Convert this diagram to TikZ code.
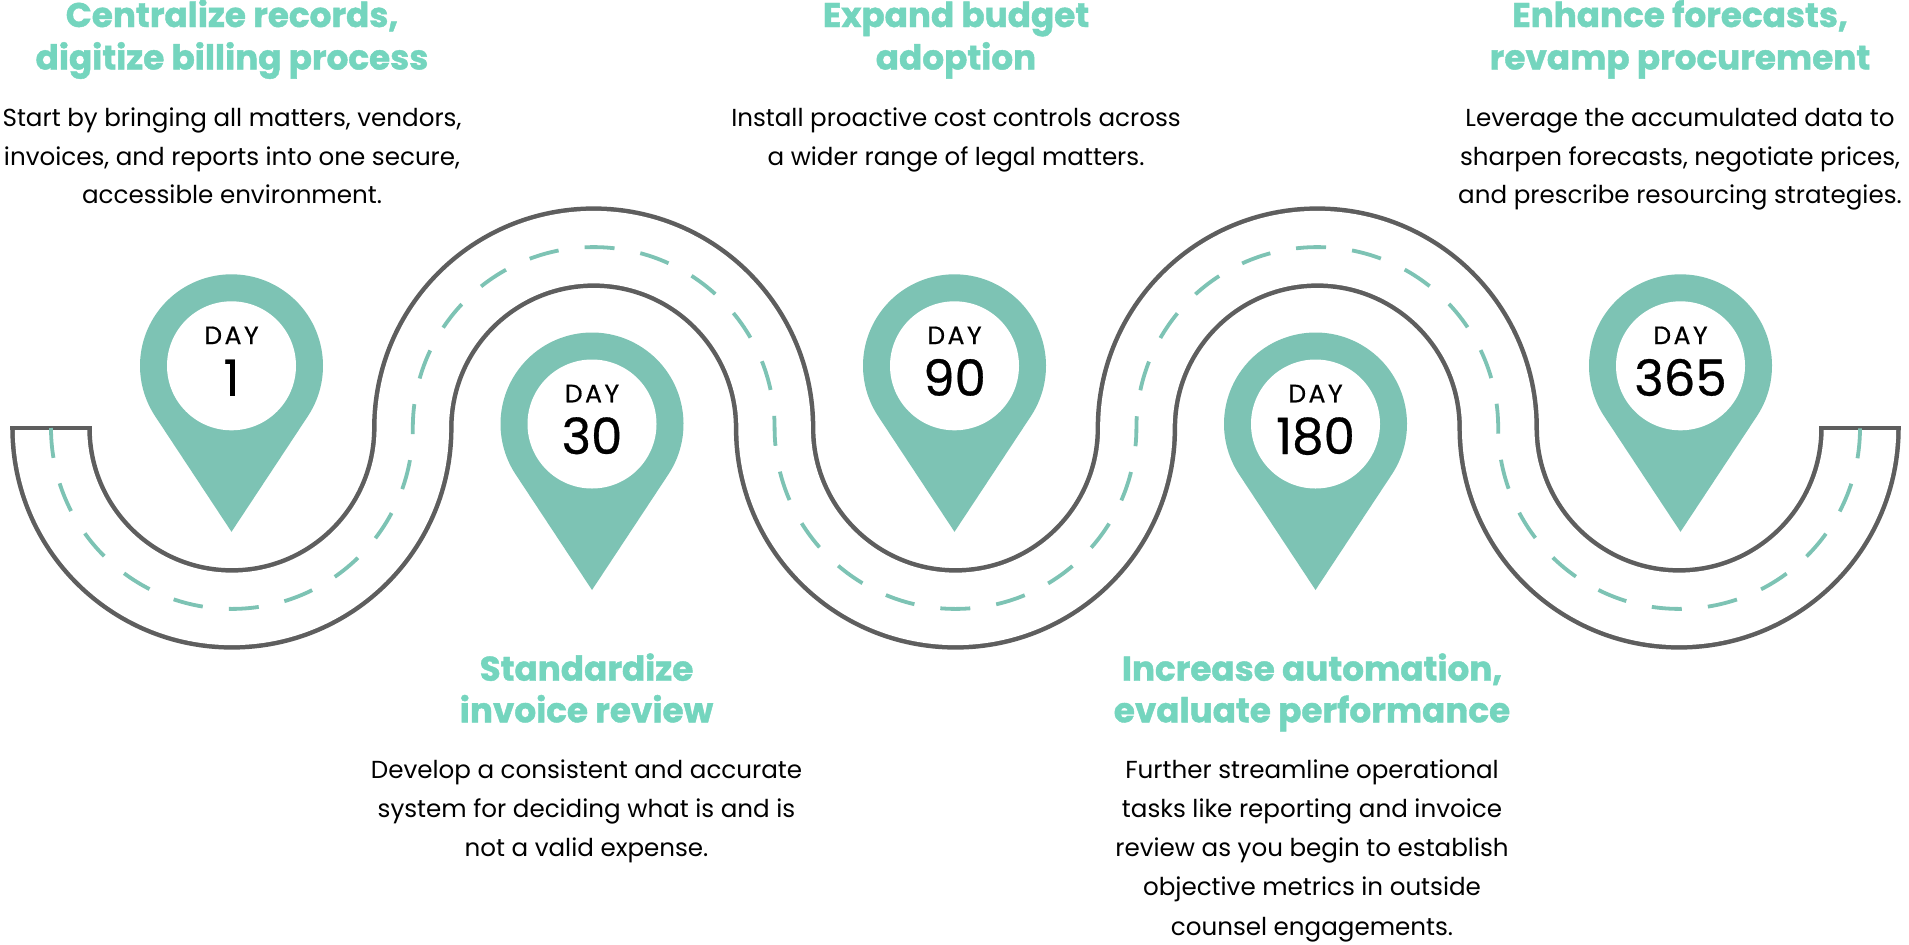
\documentclass[tikz,border=0pt]{standalone}
\usepackage{fontspec}
\setmainfont{Poppins}
\newfontfamily\headf{Poppins}[BoldFeatures={FakeBold=1.2}]
\newfontfamily\pinf{Poppins}[FakeBold=0.6]
\usetikzlibrary{calc}
\definecolor{roadgray}{HTML}{5E5E5E}
\definecolor{pinteal}{HTML}{7DC3B4}
\definecolor{headteal}{HTML}{74D5BE}
\newlength\calw
\begin{document}
\settowidth\calw{\fontsize{10pt}{12pt}\selectfont Start by bringing all matters, vendors,}%
\pgfmathsetmacro\bsz{4588/\calw}%
\settowidth\calw{\headf\fontsize{10pt}{12pt}\selectfont\bfseries digitize billing process}%
\pgfmathsetmacro\hsz{3927/\calw}%
\settowidth\calw{\pinf\fontsize{10pt}{12pt}\selectfont 365}%
\pgfmathsetmacro\nsz{925/\calw}%
\settoheight\calw{\pinf\fontsize{10pt}{12pt}\selectfont D}%
\pgfmathsetmacro\dsz{175/\calw}%
\begin{tikzpicture}[x=1pt,y=-1pt]
\tikzset{
  bodytext/.style={font=\fontsize{\bsz pt}{\bsz pt}\selectfont, text=black, inner sep=0pt, anchor=base},
  headtext/.style={font=\headf\fontsize{\hsz pt}{\hsz pt}\selectfont\bfseries, text=headteal, inner sep=0pt, anchor=base},
  daytext/.style={font=\pinf\fontsize{\dsz pt}{\dsz pt}\selectfont, text=black, inner sep=0pt, anchor=base},
  numtext/.style={font=\pinf\fontsize{\nsz pt}{\nsz pt}\selectfont, text=black, inner sep=0pt, anchor=base},
  roadedge/.style={draw=roadgray, line width=4.5pt, double=white, double distance=72.5pt},
  roadcap/.style={draw=roadgray, line width=4.5pt},
  roaddash/.style={draw=pinteal, line width=3.8pt, dash pattern=on 30pt off 26.23pt},
  pinfill/.style={fill=pinteal},
  pinhole/.style={circle, fill=white, draw=none, minimum size=129pt, inner sep=0pt}
}
\fill[white] (0,0) rectangle (1909,945);
\useasboundingbox (0,0) rectangle (1909,945);

% road
\coordinate (roadL) at (51,428);
\coordinate (roadR) at (1860,428);
\draw[roadedge] (roadL)
  arc[start angle=180,end angle=0,radius=180.9]
  arc[start angle=180,end angle=360,radius=180.9]
  arc[start angle=180,end angle=0,radius=180.9]
  arc[start angle=180,end angle=360,radius=180.9]
  arc[start angle=180,end angle=0,radius=180.9];
\draw[roadcap] ($(roadL)+(-40.75,0)$) -- ($(roadL)+(40.75,0)$);
\draw[roadcap] ($(roadR)+(-40.75,0)$) -- ($(roadR)+(40.75,0)$);
\draw[roaddash] (roadL)
  arc[start angle=180,end angle=0,radius=180.9]
  arc[start angle=180,end angle=360,radius=180.9]
  arc[start angle=180,end angle=0,radius=180.9]
  arc[start angle=180,end angle=360,radius=180.9]
  arc[start angle=180,end angle=0,radius=180.9];

% pins
\foreach \nm/\px/\py/\num in {p1/231.5/365.8/1, p30/592/424/30, p90/954.5/365.8/90, p180/1315.5/424/180, p365/1680.5/365.8/365}{
  \coordinate (\nm) at (\px,\py);
  \fill[pinfill] ($(\nm)+(0,166)$) -- ($(\nm)+(33.45:91.5)$)
     arc[start angle=33.45,end angle=-213.45,radius=91.5] -- cycle;
  \node[pinhole] (\nm-hole) at (\nm) {};
  \node[daytext] (\nm-day) at ($(\nm)+(0,-21.7)$) {D\kern2.5pt A\kern2.5pt Y};
  \node[numtext] (\nm-num) at ($(\nm)+(0,30)$) {\num};
}

% group day 1
\node[headtext] (g1h1) at (232,27) {Centralize records,};
\node[headtext] (g1h2) at (232,69.5) {digitize billing process};
\node[bodytext] (g1b1) at (232,126.7) {Start by bringing all matters, vendors,};
\node[bodytext] (g1b2) at (232,165) {invoices, and reports into one secure,};
\node[bodytext] (g1b3) at (232,203.3) {accessible environment.};

% group day 90
\node[headtext] (g90h1) at (956,27) {Expand budget};
\node[headtext] (g90h2) at (956,69.5) {adoption};
\node[bodytext] (g90b1) at (956,126.7) {Install proactive cost controls across};
\node[bodytext] (g90b2) at (956,165) {a wider range of legal matters.};

% group day 365
\node[headtext] (g365h1) at (1680,27) {Enhance forecasts,};
\node[headtext] (g365h2) at (1680,69.5) {revamp procurement};
\node[bodytext] (g365b1) at (1680,126.7) {Leverage the accumulated data to};
\node[bodytext] (g365b2) at (1680,165) {sharpen forecasts, negotiate prices,};
\node[bodytext] (g365b3) at (1680,203.3) {and prescribe resourcing strategies.};

% group day 30
\node[headtext] (g30h1) at (586.5,680.7) {Standardize};
\node[headtext] (g30h2) at (586.5,722.3) {invoice review};
\node[bodytext] (g30b1) at (586.5,778.7) {Develop a consistent and accurate};
\node[bodytext] (g30b2) at (586.5,817.5) {system for deciding what is and is};
\node[bodytext] (g30b3) at (586.5,856.7) {not a valid expense.};

% group day 180
\node[headtext] (g180h1) at (1312,680.7) {Increase automation,};
\node[headtext] (g180h2) at (1312,722.3) {evaluate performance};
\node[bodytext] (g180b1) at (1312,778.5) {Further streamline operational};
\node[bodytext] (g180b2) at (1312,817.5) {tasks like reporting and invoice};
\node[bodytext] (g180b3) at (1312,856.6) {review as you begin to establish};
\node[bodytext] (g180b4) at (1312,895.7) {objective metrics in outside};
\node[bodytext] (g180b5) at (1312,935) {counsel engagements.};
\end{tikzpicture}
\end{document}
